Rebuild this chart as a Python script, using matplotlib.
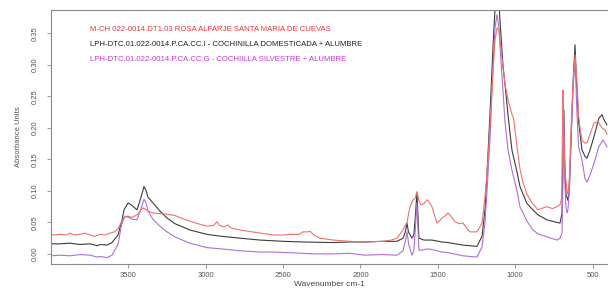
import matplotlib
matplotlib.use("Agg")
import matplotlib.pyplot as plt

plt.rcParams['font.family'] = ['Liberation Sans', 'DejaVu Sans']

# Wavenumber (cm-1) / absorbance pairs
red_wn = [4000, 3942, 3900, 3877, 3850, 3813, 3780, 3748, 3720, 3683, 3650, 3620, 3590, 3567, 3545,
          3528, 3502, 3477, 3444, 3418, 3405, 3390, 3373, 3341, 3296, 3250, 3199, 3150, 3102, 3050,
          2992, 2950, 2927, 2910, 2880, 2856, 2835, 2779, 2700, 2649, 2565, 2500, 2455, 2400, 2371,
          2340, 2326, 2300, 2261, 2177, 2068, 1971, 1854, 1800, 1764, 1725, 1699, 1680, 1660, 1647,
          1635, 1622, 1609, 1589, 1570, 1555, 1538, 1520, 1505, 1490, 1473, 1455, 1434, 1410, 1389,
          1360, 1337, 1310, 1292, 1247, 1214, 1195, 1182, 1163, 1143, 1130, 1117, 1105, 1098, 1079,
          1066, 1046, 1021, 1010, 988, 969, 949, 924, 891, 853, 820, 794, 760, 730, 710, 700, 694,
          691, 688, 678, 672, 665, 659, 650, 639, 626, 613, 600, 590, 581, 568, 549, 536, 516, 490,
          465, 439, 420, 407]
red_abs = [0.030, 0.031, 0.030, 0.033, 0.030, 0.031, 0.033, 0.030, 0.028, 0.031, 0.030, 0.033, 0.035, 0.040, 0.050,
           0.058, 0.060, 0.058, 0.062, 0.070, 0.073, 0.071, 0.068, 0.065, 0.064, 0.063, 0.061, 0.056, 0.052, 0.048,
           0.044, 0.045, 0.051, 0.045, 0.043, 0.046, 0.041, 0.038, 0.035, 0.033, 0.030, 0.030, 0.031, 0.031, 0.035,
           0.035, 0.036, 0.030, 0.025, 0.022, 0.020, 0.019, 0.020, 0.022, 0.025, 0.038, 0.050, 0.075, 0.086, 0.088,
           0.099, 0.085, 0.078, 0.080, 0.086, 0.082, 0.075, 0.060, 0.049, 0.052, 0.057, 0.060, 0.065, 0.058, 0.051,
           0.048, 0.049, 0.040, 0.035, 0.035, 0.049, 0.090, 0.128, 0.200, 0.290, 0.340, 0.359, 0.355, 0.340, 0.297,
           0.270, 0.244, 0.222, 0.215, 0.170, 0.135, 0.113, 0.095, 0.081, 0.070, 0.073, 0.075, 0.072, 0.075, 0.078, 0.088, 0.200,
           0.260, 0.200, 0.130, 0.117, 0.097, 0.095, 0.120, 0.200, 0.270, 0.316, 0.270, 0.220, 0.200, 0.180, 0.176, 0.176, 0.190, 0.208,
           0.210, 0.200, 0.197, 0.190]

black_wn = [4000, 3942, 3877, 3813, 3748, 3700, 3683, 3638, 3606, 3567, 3540, 3528, 3502, 3477, 3444,
            3418, 3399, 3385, 3373, 3341, 3296, 3250, 3199, 3102, 2992, 2900, 2779, 2649, 2500, 2371,
            2177, 2068, 1971, 1854, 1764, 1725, 1710, 1699, 1690, 1667, 1655, 1645, 1635, 1628, 1622,
            1589, 1538, 1473, 1434, 1337, 1292, 1247, 1214, 1195, 1182, 1163, 1143, 1130, 1117, 1105,
            1098, 1079, 1066, 1046, 1021, 988, 969, 924, 885, 853, 794, 730, 710, 697, 691, 685, 680,
            672, 665, 659, 650, 639, 626, 613, 605, 590, 581, 568, 549, 536, 516, 484, 460, 439, 420, 407]
black_abs = [0.016, 0.016, 0.017, 0.015, 0.016, 0.013, 0.015, 0.014, 0.018, 0.030, 0.055, 0.070, 0.081, 0.077, 0.070,
             0.090, 0.107, 0.100, 0.090, 0.081, 0.068, 0.057, 0.048, 0.038, 0.031, 0.028, 0.025, 0.022, 0.020, 0.019,
             0.018, 0.019, 0.019, 0.020, 0.020, 0.025, 0.035, 0.049, 0.035, 0.025, 0.030, 0.060, 0.097, 0.060, 0.025,
             0.022, 0.022, 0.019, 0.018, 0.014, 0.013, 0.012, 0.028, 0.070, 0.128, 0.220, 0.330, 0.390, 0.420, 0.400,
             0.370, 0.300, 0.270, 0.220, 0.165, 0.130, 0.107, 0.080, 0.070, 0.062, 0.054, 0.050, 0.049, 0.065, 0.150, 0.229, 0.150,
             0.095, 0.090, 0.085, 0.100, 0.180, 0.270, 0.332, 0.280, 0.210, 0.192, 0.165, 0.155, 0.152, 0.165, 0.192, 0.215, 0.221, 0.210, 0.205]

purple_wn = [4000, 3942, 3877, 3813, 3748, 3700, 3683, 3638, 3606, 3567, 3545, 3522, 3500, 3477, 3444,
             3418, 3399, 3385, 3373, 3341, 3296, 3250, 3199, 3102, 2992, 2900, 2779, 2649, 2565, 2455,
             2300, 2177, 2068, 1971, 1854, 1764, 1725, 1710, 1699, 1688, 1667, 1655, 1645, 1635, 1628,
             1622, 1600, 1570, 1538, 1473, 1434, 1337, 1247, 1214, 1195, 1182, 1163, 1143, 1130, 1117,
             1105, 1098, 1079, 1066, 1046, 1021, 988, 969, 924, 885, 853, 794, 730, 710, 697, 691, 685,
             680, 672, 665, 659, 650, 639, 626, 613, 600, 590, 568, 549, 536, 516, 484, 460, 432, 407]
purple_abs = [-0.003, -0.002, -0.003, -0.001, -0.002, -0.005, -0.004, -0.006, -0.002, 0.015, 0.045, 0.060, 0.058, 0.055, 0.054,
              0.072, 0.087, 0.080, 0.068, 0.055, 0.044, 0.035, 0.027, 0.017, 0.010, 0.008, 0.005, 0.003, 0.003, 0.002,
              0.000, 0.000, 0.001, -0.002, -0.001, -0.002, 0.005, 0.020, 0.035, 0.015, -0.002, 0.005, 0.040, 0.081, 0.040,
              0.006, 0.006, 0.008, 0.007, 0.003, 0.002, -0.003, -0.005, 0.011, 0.050, 0.100, 0.180, 0.300, 0.360, 0.380,
              0.360, 0.330, 0.260, 0.210, 0.165, 0.133, 0.100, 0.075, 0.052, 0.038, 0.032, 0.027, 0.022, 0.025, 0.033, 0.120, 0.218,
              0.120, 0.075, 0.065, 0.070, 0.100, 0.180, 0.260, 0.308, 0.220, 0.170, 0.149, 0.120, 0.114, 0.125, 0.149, 0.170, 0.181, 0.170]

legend_labels = [
    "M-CH 022-0014.DT1.03 ROSA ALFARJE SANTA MARIA DE CUEVAS",
    "LPH-DTC.01.022-0014.P.CA.CC.I - COCHINILLA DOMESTICADA + ALUMBRE",
    "LPH-DTC.01.022-0014.P.CA.CC.G - COCHIILLA SILVESTRE + ALUMBRE",
]
x_ticks = [3500, 3000, 2500, 2000, 1500, 1000, 500]
y_ticks = [0.00, 0.05, 0.10, 0.15, 0.20, 0.25, 0.30, 0.35]

fig = plt.figure(figsize=(6.08, 2.95), dpi=100)
ax = fig.add_axes([51/608, 31/295, 557/608, 254.5/295])

ax.plot(black_wn, black_abs, color='#3c3c3c', lw=0.8)
ax.plot(purple_wn, purple_abs, color='#b070d0', lw=0.8)
ax.plot(red_wn, red_abs, color='#f07070', lw=0.8)

ax.set_xlim(4000, 400)
ax.set_ylim(-0.016, 0.388)
ax.set_xticks(x_ticks)
ax.set_yticks(y_ticks)
ax.set_yticklabels([f"{v:.2f}" for v in y_ticks], rotation=90, va='center')
for s in ax.spines.values():
    s.set_color('#8a8a8a')
    s.set_linewidth(0.8)
ax.spines['right'].set_visible(False)
ax.tick_params(axis='both', colors='#8a8a8a', labelcolor='#555555', labelsize=5.5, length=3, width=0.6)
ax.tick_params(axis='y', pad=6)
ax.tick_params(axis='x', pad=3)

ax.set_xlabel("Wavenumber cm-1", fontsize=6, color='#444444', labelpad=1)
ax.set_ylabel("Absorbance Units", fontsize=5.5, color='#555555', labelpad=7)

leg_colors = ['#e8343c', '#222222', '#c738d0']
leg_y = [0.923, 0.861, 0.805]
for lab, c, yy in zip(legend_labels, leg_colors, leg_y):
    ax.text(0.070, yy, lab, transform=ax.transAxes, color=c, fontsize=5.6, va='center', ha='left')

fig.savefig("out.png", dpi=100)
